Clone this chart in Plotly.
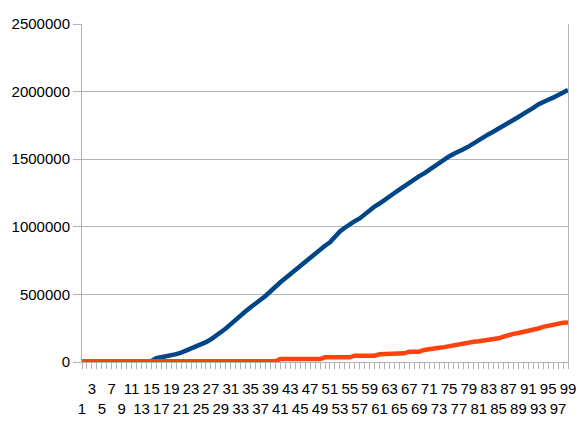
import plotly.graph_objects as go

days = list(range(1, 100))

series_blue = [0]*14 + [
    8000, 28000, 34000, 41000, 49000, 58000, 70000, 84000, 100000, 115000,
    130000, 147000, 168000, 192000, 218000, 248000, 280000, 315000, 350000, 375000,
    405000, 428000, 460000, 488000, 525000, 560000, 590000, 620000, 650000, 685000,
    718000, 750000, 778000, 808000, 838000, 860000, 885000, 930000, 965000, 993000,
    1020000, 1042000, 1062000, 1093000, 1125000, 1150000, 1172000, 1195000, 1222000, 1250000,
    1275000, 1302000, 1330000, 1352000, 1375000, 1395000, 1420000, 1455000, 1480000, 1500000,
    1520000, 1540000, 1555000, 1575000, 1595000, 1620000, 1642000, 1665000, 1685000, 1705000,
    1725000, 1745000, 1765000, 1790000, 1812000, 1835000, 1855000, 1880000, 1905000, 1925000,
    1940000, 1955000, 1975000, 1995000, 2012000,
]

series_red = [5000]*40 + [22000]*9 + [35000]*6 + [47000]*5 + [57000]*3 + [64000]*3 + [76000]*3 + [
    89000, 92000, 100000, 105000, 110000, 118000, 126000, 130000, 138000, 145000,
    150000, 153000, 158000, 162000, 168000, 175000, 188000, 200000, 208000, 215000,
    222000, 226000, 238000, 248000, 260000, 268000, 278000, 285000, 290000, 293000,
]

y_ticks = [0, 500000, 1000000, 1500000, 2000000, 2500000]


def tick_label(n):
    if n % 4 == 3:
        return str(n)
    if n % 4 == 1:
        return "<br>" + str(n)
    return ""


x_text = [tick_label(n) for n in days]

fig = go.Figure()
fig.add_trace(go.Scatter(x=days, y=series_blue, mode="lines",
                         line=dict(color="#004586", width=4.5)))
fig.add_trace(go.Scatter(x=days, y=series_red, mode="lines",
                         line=dict(color="#ff420e", width=4.5)))

grey = "#b3b3b3"
fig.update_layout(
    width=588, height=431,
    margin=dict(l=80, r=20, t=24, b=69),
    paper_bgcolor="white", plot_bgcolor="white",
    showlegend=False,
    font=dict(family="Liberation Sans, Arial, sans-serif", size=15, color="black"),
    xaxis=dict(
        range=[1, 99], tickmode="array", tickvals=days, ticktext=x_text,
        tickangle=0, showgrid=False, showline=True, linecolor=grey,
        ticks="outside", ticklen=6, tickcolor=grey, zeroline=False,
        ticklabelstandoff=7,
    ),
    yaxis=dict(
        range=[0, 2500000], tickmode="array", tickvals=y_ticks,
        ticktext=[str(v) for v in y_ticks],
        showgrid=True, gridcolor=grey, showline=True, linecolor=grey,
        mirror=True, ticks="outside", ticklen=8, tickcolor=grey, zeroline=False,
    ),
)

fig.write_html("out.html", config={"displayModeBar": False},
               post_script="document.body.style.margin='0';document.body.style.overflow='hidden';")
